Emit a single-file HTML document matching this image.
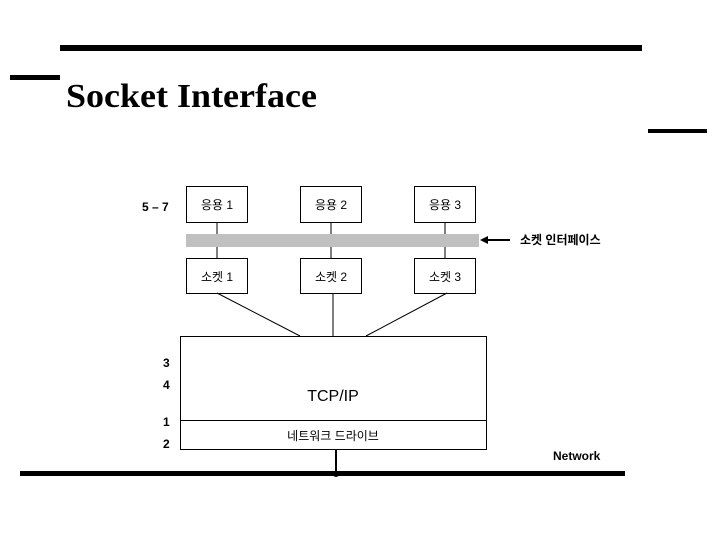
<!DOCTYPE html>
<html><head><meta charset="utf-8"><style>
body{margin:0;background:#fff;}
svg{display:block}
.k{font-family:"Liberation Sans","Noto Sans CJK KR",sans-serif;font-size:12px;fill:#000}
.b{font-family:"Liberation Sans","Noto Sans CJK KR",sans-serif;font-size:12px;font-weight:bold;fill:#000}
</style></head><body>
<svg width="720" height="540" viewBox="0 0 720 540" xmlns="http://www.w3.org/2000/svg">
<rect x="60" y="45" width="582" height="6" fill="#000"/>
<rect x="10" y="75" width="50" height="5" fill="#000"/>
<rect x="648" y="129" width="59" height="4" fill="#000"/>
<text x="66" y="107" font-family="Liberation Serif,serif" font-weight="bold" font-size="34" fill="#000" textLength="251" lengthAdjust="spacingAndGlyphs">Socket Interface</text>

<text x="142" y="211" class="b">5 – 7</text>
<g fill="none" stroke="#000" stroke-width="1">
<rect x="186.5" y="186.5" width="61" height="36"/>
<rect x="300.5" y="186.5" width="61" height="36"/>
<rect x="414.5" y="186.5" width="61" height="36"/>
<line x1="217" y1="222" x2="217" y2="258"/>
<line x1="331" y1="222" x2="331" y2="258"/>
<line x1="445" y1="222" x2="445" y2="258"/>
</g>
<rect x="186" y="234" width="293" height="13" fill="#c0c0c0"/>
<g fill="none" stroke="#000" stroke-width="1">
<rect x="186.5" y="258.5" width="61" height="35"/>
<rect x="300.5" y="258.5" width="61" height="35"/>
<rect x="414.5" y="258.5" width="61" height="35"/>
<line x1="217" y1="293" x2="300" y2="336"/>
<line x1="333" y1="293" x2="333" y2="336"/>
<line x1="447" y1="293" x2="366" y2="336"/>
<rect x="180.5" y="336.5" width="306" height="113"/>
<line x1="180" y1="420.5" x2="487" y2="420.5"/>
<line x1="486" y1="240" x2="510" y2="240" stroke-width="2"/>
</g>
<polygon points="480,240 488,236 488,244" fill="#000"/>
<text x="217" y="209" class="k" text-anchor="middle">응용 1</text>
<text x="331" y="209" class="k" text-anchor="middle">응용 2</text>
<text x="445" y="209" class="k" text-anchor="middle">응용 3</text>
<text x="217" y="281" class="k" text-anchor="middle">소켓 1</text>
<text x="331" y="281" class="k" text-anchor="middle">소켓 2</text>
<text x="445" y="281" class="k" text-anchor="middle">소켓 3</text>
<text x="520" y="244" class="b">소켓 인터페이스</text>
<text x="333" y="401" font-family="Liberation Sans,sans-serif" font-size="16" text-anchor="middle">TCP/IP</text>
<text x="333" y="440" class="k" text-anchor="middle">네트워크 드라이브</text>
<text x="163" y="367" class="b">3</text>
<text x="163" y="389" class="b">4</text>
<text x="163" y="426" class="b">1</text>
<text x="163" y="448" class="b">2</text>
<text x="553" y="460" class="b" font-size="11">Network</text>
<rect x="335" y="450" width="2" height="24" fill="#000"/>
<rect x="20" y="471" width="605" height="5" fill="#000"/>
<circle cx="336" cy="474" r="3" fill="#000"/>
</svg>
</body></html>
